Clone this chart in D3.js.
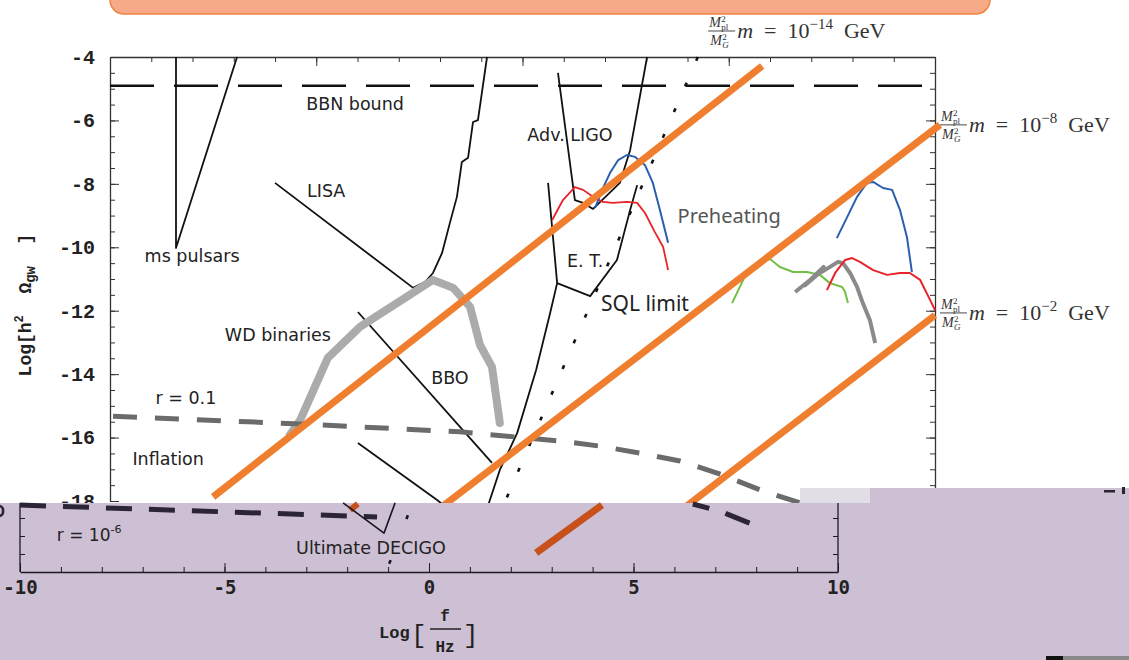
<!DOCTYPE html>
<html>
<head>
<meta charset="utf-8">
<script src="https://cdn.jsdelivr.net/npm/d3@7"></script>
<style>
body { margin: 0; background: #fff; }
svg { display: block; }
</style>
</head>
<body>
<script>
var width = 1129;
var height = 660;

// Log[f/Hz] , Log[h^2 Omega_gw]
var bbnBound = -4.91;
var msPulsars = [[-8.4, -4], [-8.4, -10.02], [-6.92, -4]];
var lisa = [[-6.0, -7.97], [-2.65, -11.28], [-2.36, -11.09], [-2.17, -10.81], [-1.95, -10.18], [-1.76, -9.23],
    [-1.59, -8.41], [-1.47, -7.31], [-1.32, -7.18], [-1.2, -6.05], [-1.08, -5.99], [-0.86, -4]];
var wdBinaries = [[-5.64, -15.92], [-5.39, -15.45], [-4.72, -13.49], [-3.94, -12.51], [-2.17, -11.03], [-1.68, -11.28],
    [-1.27, -11.88], [-1.03, -13.08], [-0.74, -13.77], [-0.55, -15.54]];
var bbo = [[-3.99, -12.04], [-0.74, -16.8]];
var decigo = [[-3.99, -16.17], [-2.07, -17.97], [-1.76, -18.3]];
var advLigo = [[0.86, -4.5], [1.27, -8.51], [1.47, -8.6], [1.71, -8.79], [2.36, -7.97], [2.61, -6.93], [3.02, -4]];
var einstein = [[0.62, -7.97], [0.84, -11.13], [1.64, -11.54], [2.29, -10.4], [2.61, -8.82], [2.78, -8.04]];
var etLow = [[0.84, -11.13], [0.67, -12.07], [0.33, -13.87], [-0.13, -15.86], [-0.55, -17.02], [-0.91, -18.44]];
var sqlLimit = [[4.25, -4], [-0.55, -18.4]];
var inflation01 = [[-10, -15.32], [-5.39, -15.57], [-1.52, -15.82], [0.91, -16.11], [1.88, -16.27], [2.85, -16.49],
    [3.82, -16.74], [4.79, -17.15], [5.76, -17.65], [6.73, -18.06]];

var preRedA = [[0.72, -9.14], [0.98, -8.51], [1.27, -8.1], [1.47, -8.19], [1.71, -8.41], [1.95, -8.57], [2.19, -8.6],
    [2.53, -8.57], [2.78, -8.6], [2.97, -8.92], [3.21, -9.52], [3.41, -9.99], [3.53, -10.72]];
var preBlueA = [[1.76, -8.76], [1.93, -8.19], [2.12, -7.66], [2.32, -7.25], [2.53, -7.09], [2.73, -7.15], [2.97, -7.41],
    [3.16, -7.97], [3.33, -8.82], [3.53, -9.86]];
var preBlueB = [[7.62, -9.71], [7.87, -9.05], [8.11, -8.41], [8.35, -7.97], [8.5, -7.94], [8.74, -8.13], [8.96, -8.19],
    [9.15, -8.82], [9.32, -9.68], [9.44, -10.78]];
var preRedB = [[7.38, -11.35], [7.58, -10.81], [7.82, -10.4], [7.99, -10.34], [8.18, -10.46], [8.5, -10.72], [8.84, -10.87],
    [9.15, -10.81], [9.39, -10.81], [9.64, -11.03], [9.88, -11.66], [10.0, -11.98]];
var preGreen = [[5.08, -11.76], [5.27, -11.25], [5.44, -10.78], [5.76, -10.4], [6.0, -10.37], [6.24, -10.62], [6.56, -10.78],
    [6.9, -10.78], [7.21, -10.87], [7.45, -11.13], [7.75, -11.25], [7.82, -11.41], [7.89, -11.76]];
var preGray = [[6.61, -11.41], [7.0, -11.0], [7.3, -10.62], [6.85, -11.2], [7.14, -10.87], [7.65, -10.46], [7.77, -10.5],
    [7.94, -10.81], [8.11, -11.25], [8.25, -11.76], [8.42, -12.29], [8.55, -13.02]];

var massLines = [[[-7.5, -17.87], [5.81, -4.28]], [[-2.12, -18.35], [10.12, -6.14]], [[3.82, -18.32], [10.0, -12.14]]];
var massExponents = ["−14", "−8", "−2"];
var massLabelAt = [[4.5, -3.18], [10.12, -6.14], [10.12, -12.07]];

var yTicks = [-4, -6, -8, -10, -12, -14, -16, -18];
var xTicksLow = [-10, -5, 0, 5, 10];

var notes = [["BBN bound", -4.06, -5.67], ["ms pulsars", -8.01, -10.46], ["LISA", -4.76, -8.41],
    ["WD binaries", -5.93, -12.96], ["BBO", -1.76, -14.31], ["Adv. LIGO", 1.15, -6.65], ["E. T.", 1.52, -10.62],
    ["r = 0.1", -8.16, -14.94], ["Inflation", -8.59, -16.87]];

// lower (overlaid) panel
var lowR6 = [[-10, -18.14], [-1.27, -18.47]];
var lowR01 = [[6.45, -18.11], [7.11, -18.31], [7.9, -18.67]];
var lowMass = [[2.62, -19.47], [4.23, -18.14]];
var lowMassBit = [[-1.93, -18.28], [-1.74, -18.11]];
var lowDecigo = [[-2.1, -18.08], [-1.1, -18.92], [-0.83, -18.08]];
var lowSql = [[-0.42, -18.14], [-1.05, -20]];

var x = d3.scaleLinear().domain([-10, 10]).range([110, 935]);
var y = d3.scaleLinear().domain([-4, -18]).range([57, 501]);
var ox = d3.scaleLinear().domain([-10, 10]).range([20, 838]);
var oy = d3.scaleLinear().domain([-20, -18]).range([572, 500]);

var line = d3.line().x(d => x(d[0])).y(d => y(d[1]));
var oline = d3.line().x(d => ox(d[0])).y(d => oy(d[1]));

var svg = d3.select("body").append("svg")
    .attr("width", width)
    .attr("height", height)

svg.append("rect").attr("width", width).attr("height", height).attr("fill", "#fff");

var plot = svg.append("g");

function curve(g, gen, data, stroke, w, dash) {
    return g.append("path").datum(data)
        .attr("d", gen)
        .attr("fill", "none")
        .attr("stroke", stroke)
        .attr("stroke-width", w)
        .attr("stroke-dasharray", dash || null)
        .attr("stroke-linejoin", "round");
}

function cleanAxis(g, col) {
    g.selectAll("line").attr("stroke", col);
    g.selectAll("path").attr("stroke", col).attr("stroke-width", 1.3);
}

// frame + ticks of the upper panel
var minorX = d3.range(-10, 11, 1);
var minorY = d3.range(-4, -18.01, -0.5);
plot.append("g").attr("transform", "translate(0,57)")
    .call(d3.axisBottom(x).tickValues(minorX).tickSize(5).tickSizeOuter(0).tickFormat(""))
    .call(cleanAxis, "#333");
plot.append("g").attr("transform", "translate(0,57)")
    .call(d3.axisBottom(x).tickValues(xTicksLow).tickSize(9).tickFormat(""))
    .call(g => g.select(".domain").remove()).call(cleanAxis, "#333");
plot.append("g").attr("transform", "translate(110,0)")
    .call(d3.axisRight(y).tickValues(minorY).tickSize(5).tickSizeOuter(0).tickFormat(""))
    .call(cleanAxis, "#333");
plot.append("g").attr("transform", "translate(110,0)")
    .call(d3.axisRight(y).tickValues(yTicks).tickSize(9).tickFormat(""))
    .call(g => g.select(".domain").remove()).call(cleanAxis, "#333");
plot.append("g").attr("transform", "translate(935,0)")
    .call(d3.axisLeft(y).tickValues(minorY).tickSize(5).tickSizeOuter(0).tickFormat(""))
    .call(cleanAxis, "#333");
plot.append("g").attr("transform", "translate(935,0)")
    .call(d3.axisLeft(y).tickValues(yTicks).tickSize(9).tickFormat(""))
    .call(g => g.select(".domain").remove()).call(cleanAxis, "#333");

var yLab = plot.append("g").attr("transform", "translate(110,0)")
    .call(d3.axisLeft(y).tickValues(yTicks).tickSize(0).tickPadding(15).tickFormat(d => String(d)));
yLab.select(".domain").remove();
yLab.selectAll("text")
    .attr("font-family", "'Liberation Mono', monospace")
    .attr("font-weight", "bold")
    .attr("font-size", 20)
    .attr("fill", "#222");

var yTitle = svg.append("text")
    .attr("transform", "translate(31,305) rotate(-90)")
    .attr("text-anchor", "middle")
    .attr("xml:space", "preserve")
    .attr("font-family", "'Liberation Mono', monospace")
    .attr("font-weight", "bold")
    .attr("font-size", 18)
    .attr("fill", "#222");
yTitle.append("tspan").text("Log[h");
yTitle.append("tspan").attr("font-size", 12).attr("dy", -8).text("2");
yTitle.append("tspan").attr("dy", 8).text("  Ω");
yTitle.append("tspan").attr("font-size", 14).attr("dy", 4).text("gw");
yTitle.append("tspan").attr("dy", -4).text("  ]");

// detector curves
plot.append("line")
    .attr("x1", x(-10)).attr("x2", x(10))
    .attr("y1", y(bbnBound)).attr("y2", y(bbnBound))
    .attr("stroke", "#111").attr("stroke-width", 2.5).attr("stroke-dasharray", "44,20");
curve(plot, line, msPulsars, "#111", 1.8);
curve(plot, line, lisa, "#111", 1.8);
curve(plot, line, bbo, "#111", 1.8);
curve(plot, line, decigo, "#111", 1.8);
curve(plot, line, advLigo, "#111", 1.8);
curve(plot, line, einstein, "#111", 1.8);
curve(plot, line, etLow, "#111", 1.8);
curve(plot, line, sqlLimit, "#111", 2.6, "4,24");
curve(plot, line, wdBinaries, "#ababab", 8).attr("stroke-linecap", "round");
curve(plot, line, inflation01, "#6b6b6b", 5, "24,18").attr("stroke-dashoffset", 39);

// preheating spectra
curve(plot, line, preRedA, "#e8232a", 1.8);
curve(plot, line, preBlueA, "#2a5fb0", 2);
curve(plot, line, preGreen, "#72c043", 2);
curve(plot, line, preGray, "#8a8a8a", 4);
curve(plot, line, preRedB, "#e8232a", 2);
curve(plot, line, preBlueB, "#2a5fb0", 2);

plot.selectAll(".note").data(notes).enter().append("text")
    .attr("class", "note")
    .attr("x", d => x(d[1])).attr("y", d => y(d[2]))
    .attr("text-anchor", "middle")
    .attr("font-family", "'DejaVu Sans', sans-serif")
    .attr("font-size", 17.5)
    .attr("fill", "#222")
    .text(d => d[0]);
plot.append("text").attr("x", x(5.01)).attr("y", y(-9.23))
    .attr("text-anchor", "middle")
    .attr("font-family", "'Noto Sans', sans-serif").attr("font-size", 20).attr("fill", "#555")
    .text("Preheating");
plot.append("text").attr("x", x(2.97)).attr("y", y(-12.01))
    .attr("text-anchor", "middle")
    .attr("font-family", "'Noto Sans', sans-serif").attr("font-size", 21).attr("fill", "#222")
    .text("SQL limit");

// hand drawn graviton mass lines
massLines.forEach(function (d) {
    curve(plot, line, d, "#ef7f2f", 7);
});

function massLabel(xv, yv, expo) {
    var serif = "'Liberation Serif', serif";
    var g = svg.append("g").attr("transform", "translate(" + x(xv) + "," + y(yv) + ")")
        .attr("font-family", serif).attr("fill", "#333");
    var num = g.append("text").attr("x", 1).attr("y", -4).attr("font-size", 14);
    num.append("tspan").attr("font-style", "italic").text("M");
    num.append("tspan").attr("x", 13).attr("y", -9).attr("font-size", 9).text("2");
    num.append("tspan").attr("x", 13).attr("y", -1).attr("font-size", 9).text("pl");
    g.append("line").attr("x1", 0).attr("x2", 27).attr("y1", 0).attr("y2", 0)
        .attr("stroke", "#333").attr("stroke-width", 0.9);
    var den = g.append("text").attr("x", 2).attr("y", 14).attr("font-size", 14);
    den.append("tspan").attr("font-style", "italic").text("M");
    den.append("tspan").attr("x", 14).attr("y", 9).attr("font-size", 9).text("2");
    den.append("tspan").attr("x", 14).attr("y", 17).attr("font-size", 9).attr("font-style", "italic").text("G");
    var main = g.append("text").attr("x", 29).attr("y", 7).attr("font-size", 22);
    main.append("tspan").attr("font-style", "italic").text("m");
    main.append("tspan").text("\u2002=\u200210");
    main.append("tspan").attr("font-size", 15).attr("dy", -9).text(expo);
    main.append("tspan").attr("dy", 9).text("\u2002GeV");
}
massExponents.forEach(function (e, i) {
    massLabel(massLabelAt[i][0], massLabelAt[i][1], e);
});

// orange title box at the top
svg.append("rect")
    .attr("x", 110).attr("y", -30).attr("width", 880).attr("height", 44).attr("rx", 14)
    .attr("fill", "#f7aa87").attr("stroke", "#ee8540").attr("stroke-width", 1.5);

// lower panel pasted over the bottom
var low = svg.append("g");
low.append("path")
    .attr("d", "M0,503H800V488H1129V660H0Z")
    .attr("fill", "#cdbfd4");
low.append("rect").attr("x", 800).attr("y", 488).attr("width", 70).attr("height", 15).attr("fill", "#e2dee6");
// clipped glyph remnant at the left edge
low.append("path").attr("d", "M-3,506 A5,5 0 0 1 3,509 L3,513 A5,5 0 0 1 -3,516")
    .attr("fill", "none").attr("stroke", "#2a2430").attr("stroke-width", 2.5);

low.append("g").attr("transform", "translate(0,572)")
    .call(d3.axisTop(ox).tickValues(minorX).tickSize(5).tickSizeOuter(0).tickFormat(""))
    .call(cleanAxis, "#1e1a24");
low.append("g").attr("transform", "translate(0,572)")
    .call(d3.axisTop(ox).tickValues(xTicksLow).tickSize(9).tickFormat(""))
    .call(g => g.select(".domain").remove()).call(cleanAxis, "#1e1a24");
low.append("g").attr("transform", "translate(20,0)")
    .call(d3.axisRight(oy).tickValues([-19.5, -19, -18.5]).tickSize(5).tickSizeOuter(0).tickFormat(""))
    .call(g => g.select(".domain").remove()).call(cleanAxis, "#1e1a24");
low.append("g").attr("transform", "translate(838,0)")
    .call(d3.axisLeft(oy).tickValues([-19.5, -19, -18.5]).tickSize(5).tickSizeOuter(0).tickFormat(""))
    .call(g => g.select(".domain").remove()).call(cleanAxis, "#1e1a24");
low.append("line").attr("x1", 20).attr("x2", 20).attr("y1", 503).attr("y2", 572).attr("stroke", "#1e1a24").attr("stroke-width", 1.3);
low.append("line").attr("x1", 838).attr("x2", 838).attr("y1", 503).attr("y2", 572).attr("stroke", "#1e1a24").attr("stroke-width", 1.3);

var xLab = low.append("g").attr("transform", "translate(0,572)")
    .call(d3.axisBottom(ox).tickValues(xTicksLow).tickSize(0).tickPadding(9).tickFormat(d => String(d)));
xLab.select(".domain").remove();
xLab.selectAll("text")
    .attr("font-family", "'DejaVu Sans Mono', monospace")
    .attr("font-weight", "bold")
    .attr("font-size", 19)
    .attr("fill", "#222");

var xt = low.append("g").attr("font-family", "'Liberation Mono', monospace").attr("font-weight", "bold").attr("fill", "#222");
xt.append("text").attr("x", 379).attr("y", 638).attr("font-size", 17).text("Log");
xt.append("text").attr("x", 411).attr("y", 643).attr("font-size", 26).attr("font-weight", "normal").text("[");
xt.append("text").attr("x", 445).attr("y", 621).attr("font-size", 16).attr("text-anchor", "middle").text("f");
xt.append("line").attr("x1", 430).attr("x2", 461).attr("y1", 629).attr("y2", 629).attr("stroke", "#222").attr("stroke-width", 1.5);
xt.append("text").attr("x", 445).attr("y", 652).attr("font-size", 16).attr("text-anchor", "middle").text("Hz");
xt.append("text").attr("x", 463).attr("y", 643).attr("font-size", 26).attr("font-weight", "normal").text("]");

curve(low, oline, lowR6, "#2c2438", 5, "26,17");
curve(low, oline, lowR01, "#2c2438", 5, "17,17,26,20");
curve(low, oline, lowMass, "#c8501a", 7);
curve(low, oline, lowMassBit, "#c8501a", 6);
curve(low, oline, lowDecigo, "#1a1520", 1.6);
curve(low, oline, lowSql, "#1a1520", 2.6, "4,44").attr("stroke-dashoffset", 37);

var r6 = low.append("text").attr("x", ox(-9.1)).attr("y", oy(-19.14))
    .attr("font-family", "'DejaVu Sans', sans-serif").attr("font-size", 17).attr("fill", "#222");
r6.append("tspan").text("r = 10");
r6.append("tspan").attr("font-size", 11).attr("dy", -8).text("-6");
low.append("text").attr("x", ox(-1.42)).attr("y", oy(-19.5))
    .attr("text-anchor", "middle")
    .attr("font-family", "'DejaVu Sans', sans-serif").attr("font-size", 17.5).attr("fill", "#222")
    .text("Ultimate DECIGO");

// leftovers of another picture at the right edge
svg.append("rect").attr("x", 1104).attr("y", 490).attr("width", 11).attr("height", 2.5).attr("fill", "#2a2430");
svg.append("rect").attr("x", 1122).attr("y", 487).attr("width", 3).attr("height", 7).attr("fill", "#2a2430");
svg.append("rect").attr("x", 1046).attr("y", 656).attr("width", 17).attr("height", 4).attr("fill", "#111");
svg.append("rect").attr("x", 1063).attr("y", 656).attr("width", 66).attr("height", 4).attr("fill", "#8a8a8a");
</script>
</body>
</html>
